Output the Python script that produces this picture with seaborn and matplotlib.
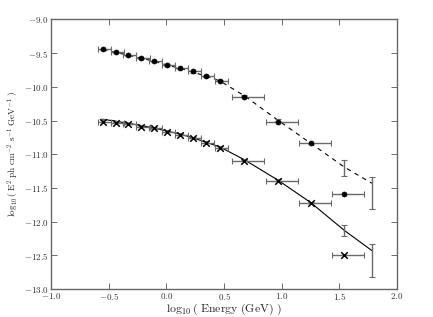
import numpy as np
import pandas as pd
import matplotlib
matplotlib.use("Agg")
import matplotlib.pyplot as plt
import seaborn as sns
from matplotlib.ticker import FuncFormatter

# ---- data ----
energy = [-0.55, -0.438, -0.329, -0.216, -0.106, 0.003, 0.118, 0.228, 0.341, 0.462,
          0.675, 0.964, 1.254, 1.543]
xerr_lo = [0.043, 0.043, 0.043, 0.043, 0.043, 0.043, 0.043, 0.043, 0.043, 0.043,
           0.104, 0.104, 0.104, 0.104]
xerr_hi = [0.070, 0.070, 0.070, 0.070, 0.070, 0.070, 0.070, 0.070, 0.070, 0.070,
           0.173, 0.178, 0.173, 0.173]
flux_a = [-9.44, -9.478, -9.527, -9.576, -9.62, -9.68, -9.724, -9.77, -9.838, -9.92,
          -10.145, -10.525, -10.837, -11.59]
flux_b = [-10.516, -10.53, -10.555, -10.59, -10.614, -10.67, -10.714, -10.763, -10.835, -10.91,
          -11.10, -11.396, -11.72, -12.49]

model_x = [-0.55, -0.438, -0.329, -0.216, -0.106, 0.003, 0.118, 0.228, 0.341, 0.462,
           0.675, 0.964, 1.254, 1.543, 1.782]
model_a = [-9.45, -9.49, -9.53, -9.575, -9.62, -9.675, -9.725, -9.78, -9.84, -9.91,
           -10.13, -10.49, -10.84, -11.19, -11.43]
model_a_up = [0.01] * 13 + [0.105, 0.09]
model_a_dn = [0.01] * 13 + [0.14, 0.385]
model_b = [-10.48, -10.51, -10.54, -10.575, -10.61, -10.655, -10.70, -10.755, -10.82, -10.89,
           -11.08, -11.38, -11.72, -12.13, -12.43]
model_b_up = [0.01] * 13 + [0.08, 0.095]
model_b_dn = [0.01] * 13 + [0.09, 0.385]

xticks = [-1.0, -0.5, 0.0, 0.5, 1.0, 1.5, 2.0]
yticks = [-13.0, -12.5, -12.0, -11.5, -11.0, -10.5, -10.0, -9.5, -9.0]

sns.set_style("ticks")
plt.rcParams["font.family"] = ["DejaVu Serif"]
plt.rcParams["mathtext.fontset"] = "cm"

fig = plt.figure(figsize=(4.33, 3.17), dpi=100)
ax = fig.add_axes([0.1178, 0.0883, 0.7991, 0.8502])

err_col = "#6a6a6a"

# model lines
dfm = pd.DataFrame({"x": model_x, "a": model_a, "b": model_b})
sns.lineplot(data=dfm, x="x", y="a", ax=ax, color="black", lw=0.8,
             linestyle=(0, (4, 4)), estimator=None, sort=False)
sns.lineplot(data=dfm, x="x", y="b", ax=ax, color="black", lw=0.8,
             estimator=None, sort=False)
ax.errorbar(model_x, model_a, yerr=[model_a_dn, model_a_up], fmt="none",
            ecolor=err_col, elinewidth=1.0, capsize=2.2, capthick=0.8)
ax.errorbar(model_x, model_b, yerr=[model_b_dn, model_b_up], fmt="none",
            ecolor=err_col, elinewidth=1.0, capsize=2.2, capthick=0.8)

# data error bars
ax.errorbar(energy, flux_a, xerr=[xerr_lo, xerr_hi], fmt="none",
            ecolor=err_col, elinewidth=1.0, capsize=2.2, capthick=0.8)
ax.errorbar(energy, flux_b, xerr=[xerr_lo, xerr_hi], fmt="none",
            ecolor=err_col, elinewidth=1.0, capsize=2.2, capthick=0.8)

df = pd.DataFrame({"x": energy, "a": flux_a, "b": flux_b})
sns.scatterplot(data=df, x="x", y="a", ax=ax, marker="o", s=13, color="black",
                edgecolor="black", linewidth=0.5, zorder=5)
sns.scatterplot(data=df, x="x", y="b", ax=ax, marker="x", s=22, color="black",
                linewidth=1.1, zorder=5)

ax.set_xlim(-1.0, 2.0)
ax.set_ylim(-13.0, -9.0)
ax.set_xticks(xticks)
ax.set_yticks(yticks)
fmt = FuncFormatter(lambda v, p: r"$%.1f$" % v)
ax.xaxis.set_major_formatter(fmt)
ax.yaxis.set_major_formatter(fmt)
ax.tick_params(direction="in", top=True, right=True, length=4, width=0.6,
               labelsize=6.5, colors="#555555", labelcolor="#333333")
ax.tick_params(axis="x", pad=1.5)
ax.tick_params(axis="y", pad=2)
for s in ax.spines.values():
    s.set_visible(True)
    s.set_color("#666666")
    s.set_linewidth(1.0)

ax.set_xlabel(r"$\log_{10}(\ \mathrm{Energy\ (GeV)}\ )$", fontsize=8.5, labelpad=0)
ax.set_ylabel(r"$\log_{10}(\ \mathrm{E^{2}\ ph\ cm^{-2}\ s^{-1}\ GeV^{-1}}\ )$",
              fontsize=6.6, labelpad=2)

fig.savefig("out.png", dpi=100)
